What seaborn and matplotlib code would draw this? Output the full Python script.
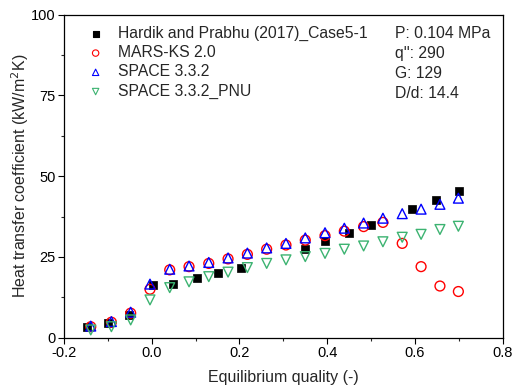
import matplotlib

matplotlib.use("Agg")
import matplotlib.pyplot as plt
import pandas
import seaborn as sns
from matplotlib.ticker import MultipleLocator
from pandas import DataFrame

# Experimental data (Hardik and Prabhu 2017, Case5-1)
x_exp: list[float] = [
    -0.148, -0.099, -0.052, 0.004, 0.049, 0.104, 0.152, 0.203,
    0.349, 0.395, 0.450, 0.499, 0.593, 0.649, 0.700,
]
h_exp: list[float] = [
    3.4, 4.6, 7.0, 16.3, 16.7, 18.4, 19.9, 21.7,
    27.4, 30.0, 32.5, 35.0, 39.9, 42.6, 45.4,
]

# Code predictions share one quality grid
x_sim: list[float] = [
    -0.139, -0.092, -0.048, -0.004, 0.041, 0.085, 0.130, 0.174, 0.218, 0.262,
    0.306, 0.350, 0.395, 0.439, 0.483, 0.527, 0.571, 0.614, 0.657, 0.699,
]
h_mars: list[float] = [
    3.4, 4.8, 7.6, 15.0, 21.0, 22.0, 23.0, 24.4, 25.8, 27.4,
    28.7, 30.2, 31.6, 33.0, 34.4, 35.7, 29.2, 22.0, 16.0, 14.3,
]
h_space: list[float] = [
    3.6, 5.0, 7.9, 16.6, 21.2, 22.2, 23.3, 24.7, 26.2, 27.8,
    29.2, 30.9, 32.5, 33.9, 35.5, 37.0, 38.4, 39.8, 41.3, 43.2,
]
h_pnu: list[float] = [
    2.4, 3.4, 5.5, 11.7, 15.5, 17.3, 18.9, 20.3, 21.7, 23.0,
    24.1, 25.1, 26.1, 27.4, 28.4, 29.7, 31.1, 32.0, 33.5, 34.5,
]

labels: list[str] = [
    "Hardik and Prabhu (2017)_Case5-1",
    "MARS-KS 2.0",
    "SPACE 3.3.2",
    "SPACE 3.3.2_PNU",
]
conditions: list[str] = ["P: 0.104 MPa", "q'': 290", "G: 129", "D/d: 14.4"]


def build_frame() -> DataFrame:
    parts: list[DataFrame] = [
        DataFrame({"x": x_exp, "h": h_exp, "case": labels[0]}),
        DataFrame({"x": x_sim, "h": h_mars, "case": labels[1]}),
        DataFrame({"x": x_sim, "h": h_space, "case": labels[2]}),
        DataFrame({"x": x_sim, "h": h_pnu, "case": labels[3]}),
    ]
    return pandas.concat(parts, ignore_index=True)


def plot(df: DataFrame) -> None:
    sns.set_style("ticks")
    plt.rcParams["font.family"] = ["Liberation Sans", "DejaVu Sans"]

    fig = plt.figure(figsize=(5.17, 3.91), dpi=100)
    ax = fig.add_axes([0.1238, 0.1363, 0.8485, 0.8261])

    styles = {
        labels[0]: dict(marker="s", color="black", filled=True),
        labels[1]: dict(marker="o", color="red", filled=False),
        labels[2]: dict(marker="^", color="blue", filled=False),
        labels[3]: dict(marker="v", color="#3cb371", filled=False),
    }

    for name in labels:
        st = styles[name]
        sub = df[df["case"] == name]
        if st["filled"]:
            sns.scatterplot(
                data=sub, x="x", y="h", ax=ax, marker=st["marker"], s=34,
                color=st["color"], edgecolor=st["color"], linewidth=0.5,
                label=name, zorder=3,
            )
        else:
            sns.scatterplot(
                data=sub, x="x", y="h", ax=ax, marker=st["marker"], s=50,
                facecolor="none", edgecolor=st["color"], linewidth=1.0,
                label=name, zorder=3,
            )

    ax.set_xlim(-0.2, 0.8)
    ax.set_ylim(0, 100)
    ax.xaxis.set_major_locator(MultipleLocator(0.2))
    ax.xaxis.set_minor_locator(MultipleLocator(0.1))
    ax.yaxis.set_major_locator(MultipleLocator(25))
    ax.yaxis.set_minor_locator(MultipleLocator(12.5))
    ax.set_xticklabels([f"{v:.1f}" for v in ax.get_xticks()])
    ax.tick_params(which="major", length=4, width=0.8, labelsize=10.5,
                   colors="black", pad=2)
    ax.tick_params(which="minor", length=2.5, width=0.8)

    for sp in ax.spines.values():
        sp.set_color("black")
        sp.set_linewidth(0.9)

    ax.set_xlabel("Equilibrium quality (-)", fontsize=11.5, labelpad=7.5)
    ax.set_ylabel("Heat transfer coefficient (kW/m$^2$K)", fontsize=11.5,
                  labelpad=0)

    leg = ax.legend(
        loc="upper left", bbox_to_anchor=(0.022, 0.985), frameon=False,
        fontsize=11.3, handletextpad=0.45, labelspacing=0.27, markerscale=0.65,
        borderaxespad=0,
    )
    for h in leg.legend_handles:
        h.set_linewidth(0.8)

    ax.text(0.755, 0.965, "\n".join(conditions), transform=ax.transAxes,
            ha="left", va="top", fontsize=11.3, linespacing=1.42)

    fig.savefig("out.png", dpi=100)
    plt.close(fig)


def main() -> None:
    plot(df=build_frame())


if __name__ == "__main__":
    main()
